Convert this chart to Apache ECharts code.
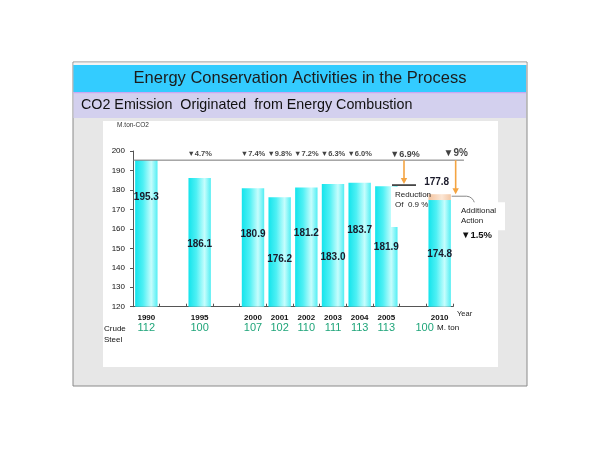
<!DOCTYPE html>
<html><head><meta charset="utf-8">
<script src="https://cdn.jsdelivr.net/npm/echarts@6/dist/echarts.min.js"></script>
<style>html,body{margin:0;padding:0;background:#fff}#c{width:600px;height:450px}</style>
</head><body><div id="c"></div>
<script>
// ---- data ----
const years = ['1990','','1995','','2000','2001','2002','2003','2004','2005','','2010'];
const co2 = [195.3,null,186.1,null,180.9,176.2,181.2,183.0,183.7,181.9,null,174.8];
const co2Before2010 = 177.8;          // 2010 level before the additional action
const baseline1990 = 195.3;
const reductionLabels = ['','','▼4.7%','','▼7.4%','▼9.8%','▼7.2%','▼6.3%','▼6.0%','','▼6.9%','▼9%'];
const crudeSteel = ['112','','100','','107','102','110','111','113','113','','100'];
const yMin = 120, yMax = 200, yStep = 10;
const titleText = 'Energy Conservation Activities in the Process';
const subtitleText = 'CO2 Emission  Originated  from Energy Combustion';

// ---- layout / styling (not data) ----
const FONT = '"Liberation Sans", Arial, sans-serif';
const NARROW = '"Liberation Sans Narrow", "Arial Narrow", "Liberation Sans", Arial, sans-serif';
const labelDy = [37,null,66,null,46,62,46,73,48,61,null,54];
const cats = years.map((y,i) => y || ('gap' + i));

const chart = echarts.init(document.getElementById('c'), null, {renderer:'canvas'});
const barGrad = new echarts.graphic.LinearGradient(0,0,1,0,[
  {offset:0,color:'#14E4EC'},{offset:0.35,color:'#4EF0F4'},{offset:0.72,color:'#C6FDFD'},{offset:1,color:'#52EEF3'}]);
const peachGrad = new echarts.graphic.LinearGradient(0,0,1,0,[
  {offset:0,color:'#F3C4A0'},{offset:0.6,color:'#FCE6D4'},{offset:1,color:'#F2C7A6'}]);

const option = {
  backgroundColor:'#ffffff',
  animation:false,
  grid:{left:133, right:147, top:151, bottom:143.3},
  xAxis:[{
    type:'category', data:cats,
    axisLine:{lineStyle:{color:'#555',width:1}},
    axisTick:{show:true, inside:true, length:3, interval:0, lineStyle:{color:'#555'}},
    axisLabel:{interval:0, formatter:v => v.startsWith('gap') ? '' : v, fontSize:8, fontWeight:'bold', color:'#111', margin:7, fontFamily:NARROW},
    name:'Year', nameLocation:'end', nameGap:4,
    nameTextStyle:{fontSize:7.5, color:'#222', verticalAlign:'top', align:'left', padding:[3,0,0,0], fontFamily:FONT}
  },{
    type:'category', data:cats, position:'bottom',
    axisLine:{show:false}, axisTick:{show:false},
    axisLabel:{interval:0, margin:16, color:'#1FA57A', fontSize:11, fontFamily:NARROW,
      formatter:(v,i) => i === 11 ? '{s|' + crudeSteel[i] + '}' : crudeSteel[i],
      rich:{s:{color:'#1FA57A', fontSize:11, fontFamily:NARROW, padding:[0,30,0,0]}}}
  }],
  yAxis:{
    type:'value', min:yMin, max:yMax, interval:yStep,
    axisLine:{show:true, lineStyle:{color:'#555'}},
    axisTick:{show:true, length:3, lineStyle:{color:'#555'}},
    splitLine:{show:false},
    axisLabel:{fontSize:8, color:'#111', margin:8, fontFamily:FONT},
    name:'M.ton-CO2', nameGap:22, nameTextStyle:{fontSize:6.5, color:'#333', fontFamily:FONT}
  },
  series:[{
    name:'CO2', type:'bar', stack:'e', barCategoryGap:'16%', z:2,
    itemStyle:{color:barGrad},
    data: co2.map((v,i) => v == null ? null : {value:v,
      label:{show:true, position:['50%', labelDy[i]], align:'center', verticalAlign:'middle'}}),
    label:{show:true, fontSize:10, fontWeight:'bold', color:'#1a1a2a', fontFamily:FONT,
      formatter:p => Number(p.value).toFixed(1)}
  },{
    name:'Additional action', type:'bar', stack:'e', z:2,
    itemStyle:{color:peachGrad},
    data: co2.map((v,i) => i === 11 ? +(co2Before2010 - v).toFixed(1) : null),
    label:{show:true, position:'top', distance:7, offset:[-3,0], fontSize:10, fontWeight:'bold', color:'#1a1a2a', fontFamily:FONT,
      formatter:() => co2Before2010.toFixed(1)}
  },{
    name:'Reduction', type:'scatter', symbolSize:0, z:5, silent:true,
    data: reductionLabels.map((t,i) => t ? {value:[i, baseline1990], name:t,
      label:{offset: i === 10 ? [-8,-6] : (i === 11 ? [16,-7] : [0,-6]),
             fontSize: i === 10 ? 9 : (i === 11 ? 10 : 7.5)}} : null).filter(d => d),
    label:{show:true, position:'inside', formatter:p => p.name, fontWeight:'bold', color:'#111', fontFamily:NARROW}
  }]
};
chart.setOption(option);

// ---- decorations anchored on the chart's own scales ----
const px = (i, v) => chart.convertToPixel({xAxisIndex:0, yAxisIndex:0}, [i, v]);
const yB = px(0, baseline1990)[1];
const x10 = px(10, yMin)[0], x11 = px(11, yMin)[0];
const gridRight = px(11, yMin)[0] + 13.3;
const a1x = x10 - 9, a1y = px(10, 183)[1];
const a2x = x11 + 16, a2y = px(11, co2Before2010)[1];
const orange = '#F4A442';
function arrow(x, y0, y1){
  return [
    {type:'line', z:30, shape:{x1:x, y1:y0, x2:x, y2:y1-5}, style:{stroke:orange, lineWidth:1.6}},
    {type:'polygon', z:30, shape:{points:[[x-3.2,y1-6],[x+3.2,y1-6],[x,y1]]}, style:{fill:orange}}
  ];
}
const graphics = [
  // slide frame and bands
  {type:'rect', z:-20, shape:{x:73, y:62, width:454, height:324}, style:{fill:'#E7E7E7', stroke:'#8a8a8a', lineWidth:1}},
  {type:'rect', z:-19, shape:{x:73.5, y:62.5, width:453, height:2.5}, style:{fill:'#F4F4F4'}},
  {type:'rect', z:-18, shape:{x:73.5, y:65, width:452.5, height:27}, style:{fill:'#33CCFF'}},
  {type:'rect', z:-18, shape:{x:73.5, y:92, width:452.5, height:26}, style:{fill:'#D3D0EE'}},
  {type:'rect', z:-17, shape:{x:73.5, y:92, width:452.5, height:1.2}, style:{fill:'#C9A8F2'}},
  {type:'rect', z:-16, shape:{x:103, y:121, width:395, height:246}, style:{fill:'#FFFFFF'}},
  {type:'text', z:-10, x:300, y:78.5, style:{text:titleText, font:'16.5px ' + FONT, fill:'#1c1c1c', align:'center', verticalAlign:'middle'}},
  {type:'text', z:-10, x:81, y:105.5, style:{text:subtitleText, font:'14.3px ' + FONT, fill:'#111', align:'left', verticalAlign:'middle'}},
  // 1990 baseline
  {type:'line', z:3, shape:{x1:133, y1:yB, x2:gridRight + 11, y2:yB}, style:{stroke:'#777', lineWidth:1}},
  // reduction of 0.9 % box
  {type:'line', z:31, shape:{x1:a1x-12, y1:a1y+1, x2:a1x+12, y2:a1y+1}, style:{stroke:'#222', lineWidth:1.5}},
  {type:'rect', z:40, shape:{x:391, y:a1y+3, width:37, height:40}, style:{fill:'#fff'}},
  {type:'text', z:41, x:395, y:a1y+6, style:{text:'Reduction\nOf  0.9 %', font:'8px ' + NARROW, fill:'#222', lineHeight:9.5}},
  // additional action box
  {type:'line', z:31, shape:{x1:x11+12, y1:a2y+2, x2:x11+27, y2:a2y+2}, style:{stroke:'#888', lineWidth:1}},
  {type:'bezierCurve', z:31, shape:{x1:x11+27, y1:a2y+2, x2:x11+35, y2:a2y+9, cpx1:x11+33, cpy1:a2y+2.5}, style:{stroke:'#888', fill:null, lineWidth:1}},
  {type:'rect', z:40, shape:{x:458, y:a2y+8, width:47, height:28}, style:{fill:'#fff'}},
  {type:'text', z:41, x:461, y:a2y+12, style:{text:'Additional\nAction', font:'8px ' + NARROW, fill:'#222', lineHeight:9.5}},
  {type:'text', z:41, x:461, y:a2y+36, style:{text:'▼1.5%', font:'bold 9.5px ' + NARROW, fill:'#111'}},
  // crude steel row captions
  {type:'text', z:5, x:104, y:323, style:{text:'Crude\nSteel', font:'8px ' + NARROW, fill:'#111', lineHeight:11}},
  {type:'text', z:5, x:437, y:323.5, style:{text:'M. ton', font:'8px ' + NARROW, fill:'#111'}}
].concat(arrow(a1x, yB, a1y), arrow(a2x, yB, a2y));
chart.setOption({graphic:graphics});
</script></body></html>
